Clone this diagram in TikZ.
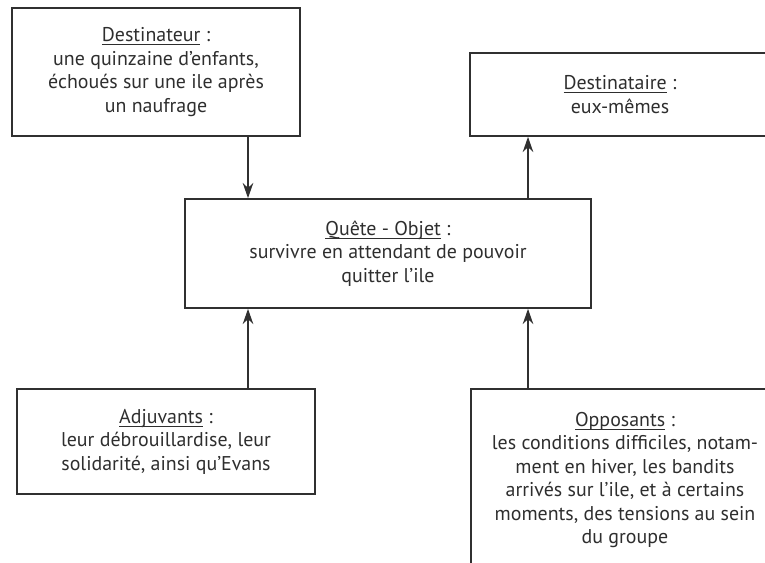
\documentclass[tikz,border=0pt]{standalone}
\usepackage{fontspec}
\setmainfont{PT Sans}
\usetikzlibrary{arrows.meta}
\usetikzlibrary{positioning}
\definecolor{boxline}{HTML}{303030}
\definecolor{boxtext}{HTML}{2E2E2E}
\newcommand{\headword}[1]{\setbox0\hbox{#1}\rlap{\rule[-2.8pt]{\wd0}{0.8pt}}\box0\relax}

\begin{document}
\begin{tikzpicture}[x=0.03cm,y=-0.03cm,
    box node/.style={rectangle,draw=boxline,line width=1.4pt,text=boxtext,align=center,inner sep=0pt,font=\fontsize{17}{20}\selectfont},
    link/.style={-{Stealth[length=13pt,width=9pt]},draw=boxline,line width=1.4pt}]
  \clip (0,0) rectangle (765,562);
  % axes for the vertical arrows
  \coordinate (left axis) at (248,0);
  \coordinate (right axis) at (528,0);
  \node[box node,minimum width=8.64cm,minimum height=3.84cm] (destinateur) at (156,72)
    {\headword{Destinateur}~:\\une quinzaine d’enfants,\\échoués sur une ile après\\un naufrage};
  \node[box node,minimum width=9cm,minimum height=2.49cm] (destinataire) at (620,94.5)
    {\headword{Destinataire} :\\eux-mêmes};
  \node[box node,minimum width=12.18cm,minimum height=3.27cm] (quete) at (388,253.5)
    {\headword{Quête - Objet} :\\survivre en attendant de pouvoir\\quitter l’ile};
  \node[box node,minimum width=8.94cm,minimum height=3.15cm] (adjuvants) at (166,441.5)
    {\headword{Adjuvants} :\\leur débrouillardise, leur\\solidarité, ainsi qu’Evans};
  \node[box node,anchor=north,minimum width=9.24cm,inner ysep=0.7cm,text depth=2cm] (opposants) at (625,388)
    {\headword{Opposants} :\\les conditions difficiles, notam-\\ment en hiver, les bandits\\arrivés sur l’ile, et à certains\\moments, des tensions au sein\\du groupe};
  \draw[link] (destinateur.south -| left axis) -- (quete.north -| left axis);
  \draw[link] (quete.north -| right axis) -- (destinataire.south -| right axis);
  \draw[link] (adjuvants.north -| left axis) -- (quete.south -| left axis);
  \draw[link] (opposants.north -| right axis) -- (quete.south -| right axis);
\end{tikzpicture}
\end{document}
